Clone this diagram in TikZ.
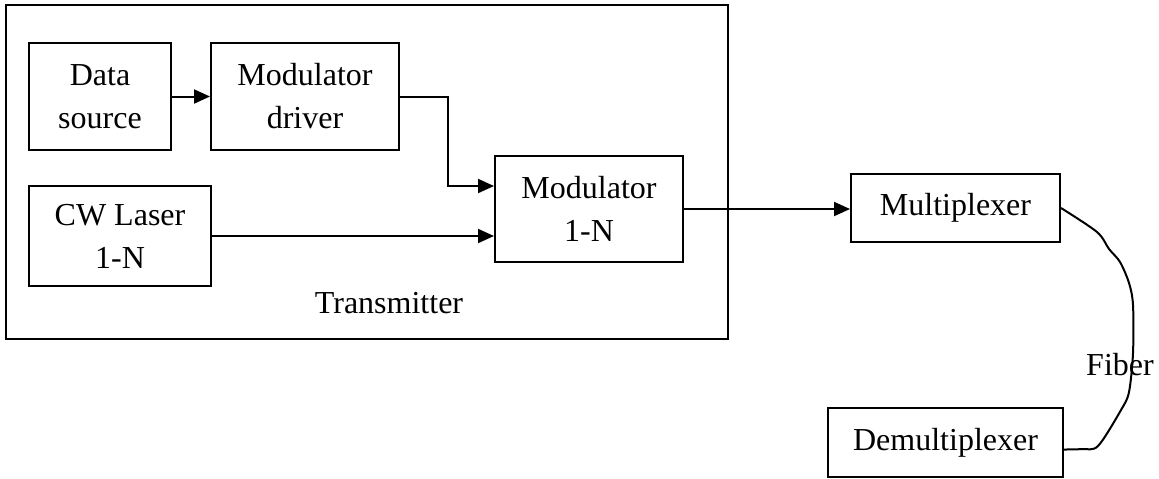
\documentclass[tikz,border=0pt]{standalone}
\usepackage{fontspec}
\setmainfont{Liberation Serif}
\usetikzlibrary{arrows.meta,calc}
\begin{document}
\begin{tikzpicture}[x=0.5pt,y=-0.5pt,
  every node/.style={font=\fontsize{16}{21.5}\selectfont},
  blk/.style={draw,line width=1pt,inner sep=0pt,align=center},
  arr/.style={line width=1pt,-{Triangle[length=8pt,width=7pt]}},
  ln/.style={line width=1pt}]
\useasboundingbox (0,0) rectangle (1159,478);
\node[blk,minimum width=361pt,minimum height=167pt] (tx) at (367,172) {};
\node (txl) at (389,303) {Transmitter};
\node[blk,minimum width=71pt,minimum height=53.5pt] (ds) at (100,96.5) {Data\\source};
\node[blk,minimum width=94pt,minimum height=53.5pt] (drv) at (305,96.5) {Modulator\\driver};
\node[blk,minimum width=91pt,minimum height=50pt] (las) at (120,236) {CW Laser\\1-N};
\node[blk,minimum width=94pt,minimum height=53pt] (mod) at (589,209) {Modulator\\1-N};
\node[blk,minimum width=104.5pt,minimum height=34pt] (mux) at (955.5,208) {Multiplexer};
\node[blk,minimum width=117.5pt,minimum height=34.5pt] (dmx) at (945.5,442.5) {Demultiplexer};
\coordinate (in1) at ($(mod.west)+(0,-23)$);
\coordinate (fend) at ($(dmx.east)+(0,7)$);
\draw[arr] (ds.east) -- (drv.west);
\draw[arr] (drv.east) -- ++(48,0) |- (in1);
\draw[arr] (las.east) -- (las.east -| mod.west);
\draw[arr] (mod.east) -- (mod.east -| mux.west);
\draw[ln] plot[smooth,tension=0.5] coordinates {(mux.east) (1097,232) (1109,249) (1120,262) (1129,283) (1133,305) (1133,353) (1129,392) (1121,410) (1098,446) (1082,449) (fend)};
\node (fib) at (1120,365) {Fiber};
\end{tikzpicture}
\end{document}
